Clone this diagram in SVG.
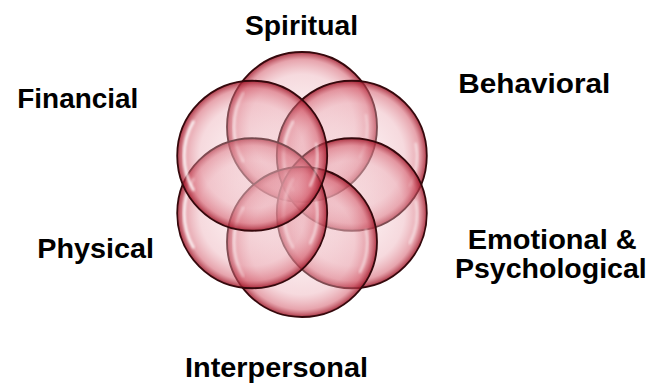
<svg xmlns="http://www.w3.org/2000/svg" xmlns:xlink="http://www.w3.org/1999/xlink" width="651" height="383" viewBox="0 0 651 383">
  <style>
    .lbl { font-family: "Liberation Sans", Arial, sans-serif; font-weight: bold; font-size: 28px; fill: #000; }
    .disc { fill: url(#bubbleFill); stroke: #35080c; stroke-width: 1.8; }
    .hl { fill: none; stroke: #ffffff; stroke-linecap: round; filter: url(#soft); }
  </style>
  <defs>
    <radialGradient id="bubbleFill" cx="0.5" cy="0.5" r="0.5">
      <stop offset="0" stop-color="#f5d6da" stop-opacity="0.3"/>
      <stop offset="0.7" stop-color="#eaa6b0" stop-opacity="0.42"/>
      <stop offset="0.9" stop-color="#d35a6a" stop-opacity="0.55"/>
      <stop offset="1" stop-color="#9e1628" stop-opacity="0.85"/>
    </radialGradient>
    <filter id="soft" x="-20%" y="-20%" width="140%" height="140%">
      <feGaussianBlur stdDeviation="0.8"/>
    </filter>
    <g id="bubble">
      <circle class="disc" cx="0" cy="0" r="75"/>
      <path class="hl" d="M-58.9,34 A68,68 0 0 1 -58.9,-34" stroke-width="3" stroke-opacity="0.8"/>
      <path class="hl" d="M64,-12 A65,65 0 0 1 58,30" stroke-width="2.5" stroke-opacity="0.55"/>
    </g>
  </defs>
  <rect width="651" height="383" fill="#ffffff"/>

  <g id="node-spiritual">
    <use xlink:href="#bubble" href="#bubble" x="302" y="127"/>
    <text class="lbl" x="245" y="34.5" textLength="113" lengthAdjust="spacingAndGlyphs">Spiritual</text>
  </g>
  <g id="node-behavioral">
    <use xlink:href="#bubble" href="#bubble" x="351.8" y="155.75"/>
    <text class="lbl" x="458.3" y="93" textLength="152" lengthAdjust="spacingAndGlyphs">Behavioral</text>
  </g>
  <g id="node-emotional">
    <use xlink:href="#bubble" href="#bubble" x="351.8" y="213.25"/>
    <text class="lbl" x="467.7" y="248.5" textLength="169" lengthAdjust="spacingAndGlyphs">Emotional &amp;</text>
    <text class="lbl" x="455" y="277.5" textLength="191.7" lengthAdjust="spacingAndGlyphs">Psychological</text>
  </g>
  <g id="node-interpersonal">
    <use xlink:href="#bubble" href="#bubble" x="302" y="242"/>
    <text class="lbl" x="185" y="377" textLength="183" lengthAdjust="spacingAndGlyphs">Interpersonal</text>
  </g>
  <g id="node-physical">
    <use xlink:href="#bubble" href="#bubble" x="252.2" y="213.25"/>
    <text class="lbl" x="37.3" y="258.3" textLength="116.7" lengthAdjust="spacingAndGlyphs">Physical</text>
  </g>
  <g id="node-financial">
    <use xlink:href="#bubble" href="#bubble" x="252.2" y="155.75"/>
    <text class="lbl" x="17.3" y="108.3" textLength="121" lengthAdjust="spacingAndGlyphs">Financial</text>
  </g>
  <g id="connectors"></g>
</svg>
